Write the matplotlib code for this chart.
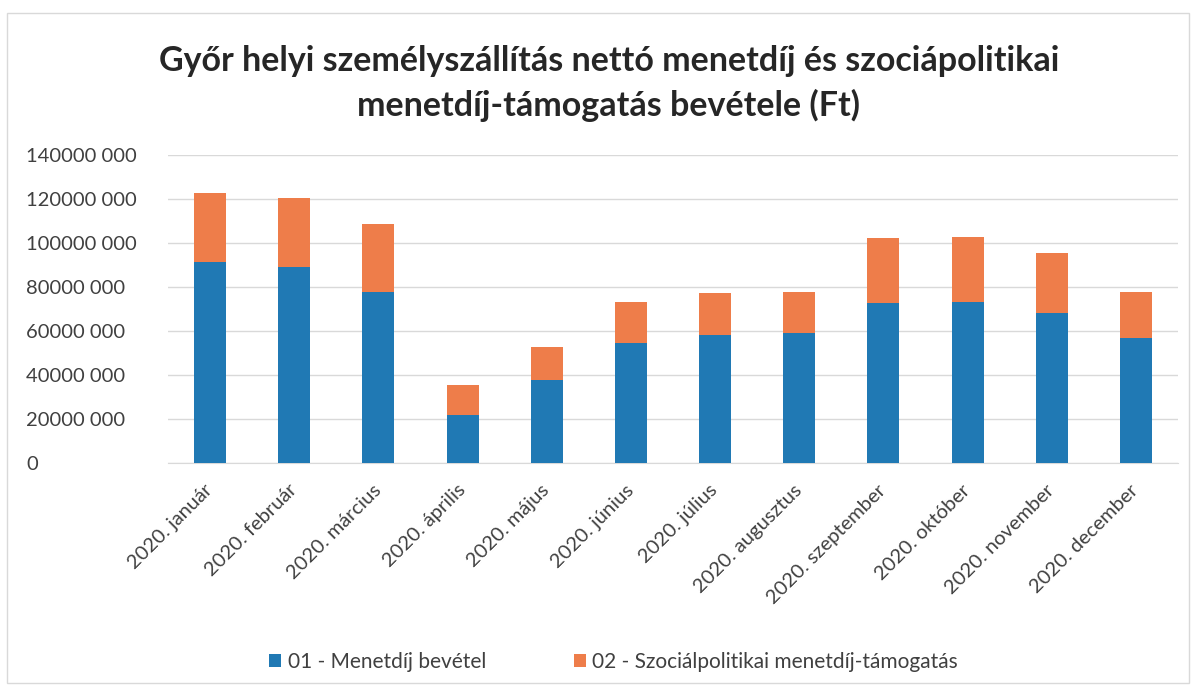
import matplotlib
matplotlib.use("Agg")
import matplotlib.pyplot as plt
from matplotlib.ticker import FuncFormatter
import numpy as np

plt.rcParams['font.family'] = ['Lato', 'DejaVu Sans']

MONTHS = ["2020. január", "2020. február", "2020. március", "2020. április",
          "2020. május", "2020. június", "2020. július", "2020. augusztus",
          "2020. szeptember", "2020. október", "2020. november", "2020. december"]

# Ft, leolvasva az abrarol
MENETDIJ = [91.4e6, 89.1e6, 77.4e6, 21.6e6, 37.5e6, 54.5e6,
            58.2e6, 58.8e6, 72.4e6, 73.3e6, 68.0e6, 56.6e6]
OSSZES = [122.5e6, 120.6e6, 108.4e6, 35.2e6, 52.4e6, 73.0e6,
          77.1e6, 77.7e6, 102.3e6, 102.6e6, 95.5e6, 77.7e6]
TAMOGATAS = [t - m for t, m in zip(OSSZES, MENETDIJ)]

SERIES = ["01 - Menetdíj bevétel", "02 - Szociálpolitikai menetdíj-támogatás"]
COLORS = ["#2079B4", "#EE7D4A"]


def fmt(v, pos):
    if v == 0:
        return "0"
    return f"{int(v // 1000)} 000"


fig = plt.figure(figsize=(11.96, 6.91), dpi=100)
ax = fig.add_axes([168 / 1196, 1 - 462.5 / 691, (1178 - 168) / 1196, (462.5 - 155) / 691])

x = np.arange(len(MONTHS))
ax.bar(x, MENETDIJ, width=0.38, color=COLORS[0], label=SERIES[0], zorder=3)
ax.bar(x, TAMOGATAS, width=0.38, bottom=MENETDIJ, color=COLORS[1], label=SERIES[1], zorder=3)

ax.set_xlim(-0.5, len(MONTHS) - 0.5)
ax.set_ylim(0, 140e6)
ax.set_yticks(np.arange(0, 140e6 + 1, 20e6))
ax.yaxis.set_major_formatter(FuncFormatter(fmt))
ax.grid(axis="y", color="#d9d9d9", linewidth=1, zorder=0)
for s in ["top", "right", "left"]:
    ax.spines[s].set_visible(False)
ax.spines["bottom"].set_color("#d9d9d9")
ax.tick_params(axis="both", length=0, labelsize=14.5, colors="#404040")
ax.set_xticks(x)
ax.set_xticklabels(MONTHS, rotation=45, ha="right", va="center", rotation_mode="anchor")
ax.tick_params(axis="x", pad=18)

for lbl in ax.get_yticklabels():
    lbl.set_horizontalalignment("left")
ax.tick_params(axis="y", pad=102)

fig.text(0.509, 0.912, "Győr helyi személyszállítás nettó menetdíj és szociápolitikai",
         ha="center", va="center", fontsize=24.5, fontweight="bold", color="#262626")
fig.text(0.509, 0.848, "menetdíj-támogatás bevétele (Ft)",
         ha="center", va="center", fontsize=24.5, fontweight="bold", color="#262626")

fig.legend(loc="center", bbox_to_anchor=(0.513, 0.042), ncol=2, frameon=False,
           fontsize=15, handlelength=0.6, handleheight=0.6, handletextpad=0.3,
           columnspacing=4.2, labelcolor="#404040")

fig.patches.append(plt.Rectangle((7 / 1196, 8 / 691), 1182 / 1196, 670 / 691,
                                 transform=fig.transFigure, fill=False,
                                 edgecolor="#d9d9d9", linewidth=1))

fig.savefig("out.png", dpi=100)
